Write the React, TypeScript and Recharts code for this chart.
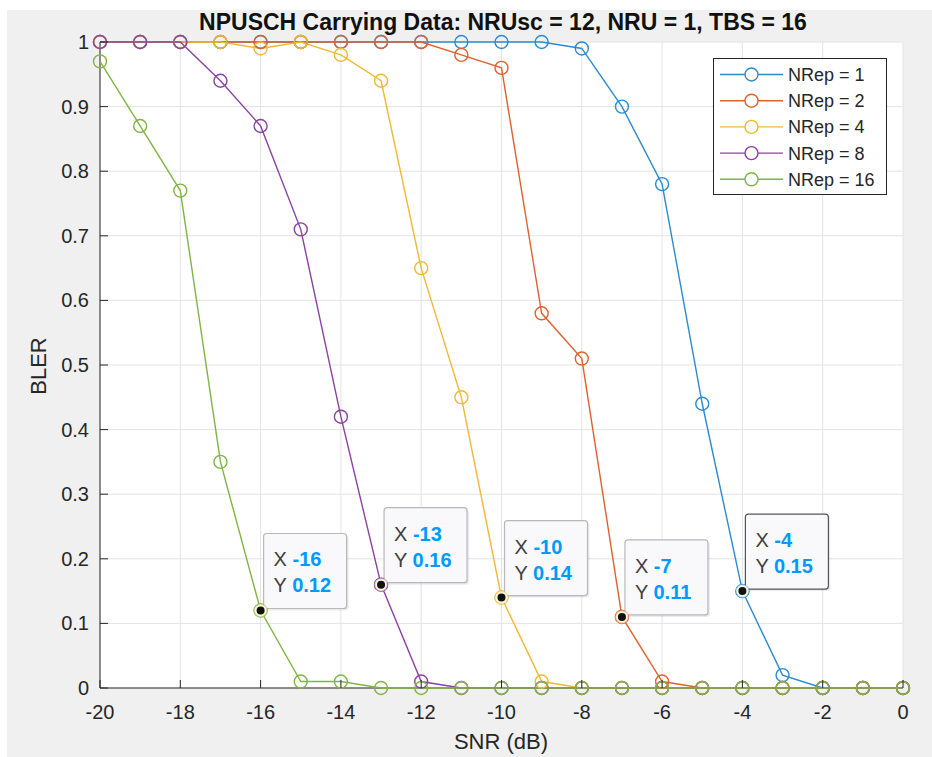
import React from 'react';
import { LineChart, Line, XAxis, YAxis, CartesianGrid, Legend, ReferenceDot } from 'recharts';

const snr = [-20, -19, -18, -17, -16, -15, -14, -13, -12, -11, -10, -9, -8, -7, -6, -5, -4, -3, -2, -1, 0];

const nrep1 = [1, 1, 1, 1, 1, 1, 1, 1, 1, 1, 1, 1, 0.99, 0.9, 0.78, 0.44, 0.15, 0.02, 0, 0, 0];
const nrep2 = [1, 1, 1, 1, 1, 1, 1, 1, 1, 0.98, 0.96, 0.58, 0.51, 0.11, 0.01, 0, 0, 0, 0, 0, 0];
const nrep4 = [1, 1, 1, 1, 0.99, 1, 0.98, 0.94, 0.65, 0.45, 0.14, 0.01, 0, 0, 0, 0, 0, 0, 0, 0, 0];
const nrep8 = [1, 1, 1, 0.94, 0.87, 0.71, 0.42, 0.16, 0.01, 0, 0, 0, 0, 0, 0, 0, 0, 0, 0, 0, 0];
const nrep16 = [0.97, 0.87, 0.77, 0.35, 0.12, 0.01, 0.01, 0, 0, 0, 0, 0, 0, 0, 0, 0, 0, 0, 0, 0, 0];

const seriesNames = ['NRep = 1', 'NRep = 2', 'NRep = 4', 'NRep = 8', 'NRep = 16'];
const seriesKeys = ['r1', 'r2', 'r4', 'r8', 'r16'];
const seriesColors = ['#2a8bd0', '#de6230', '#efb933', '#8b43a0', '#80b544'];

const xTicks = [-20, -18, -16, -14, -12, -10, -8, -6, -4, -2, 0];
const yTicks = [0, 0.1, 0.2, 0.3, 0.4, 0.5, 0.6, 0.7, 0.8, 0.9, 1];

// data tips: snr value + which series
const tipSnr = [-16, -13, -10, -7, -4];
const tipSeries = [4, 3, 2, 1, 0];

const data = snr.map((s, i) => ({
  snr: s,
  r1: nrep1[i],
  r2: nrep2[i],
  r4: nrep4[i],
  r8: nrep8[i],
  r16: nrep16[i],
}));

const FONT = '"Liberation Sans", Arial, Helvetica, sans-serif';
const INK = '#262626';

const XTick = (props: any) => {
  const { x, y, payload } = props;
  return (
    <g>
      <line x1={x} y1={y} x2={x} y2={y - 8} stroke={INK} strokeWidth={1} />
      <text x={x} y={y + 31} textAnchor="middle" fontSize={20} fontFamily={FONT} fill={INK}>
        {payload.value}
      </text>
    </g>
  );
};

const YTick = (props: any) => {
  const { x, y, payload } = props;
  return (
    <g>
      <line x1={x} y1={y} x2={x + 8} y2={y} stroke={INK} strokeWidth={1} />
      <text x={x - 11} y={y + 7} textAnchor="end" fontSize={20} fontFamily={FONT} fill={INK}>
        {String(payload.value)}
      </text>
    </g>
  );
};

const makeDot = (color: string) => (props: any) => {
  const { cx, cy, index } = props;
  if (cx == null || cy == null) return <g key={index} />;
  return <circle key={index} cx={cx} cy={cy} r={6.5} fill="none" stroke={color} strokeWidth={1.4} />;
};

const LegendBox = () => (
  <svg width={174} height={137} style={{ display: 'block' }}>
    <rect x={0.5} y={0.5} width={173} height={136} fill="#fff" stroke={INK} strokeWidth={1} />
    {seriesNames.map((name, i) => {
      const cy = 16.5 + i * 26.2;
      return (
        <g key={name}>
          <line x1={7} y1={cy} x2={70} y2={cy} stroke={seriesColors[i]} strokeWidth={1.4} />
          <circle cx={38.5} cy={cy} r={6.5} fill="#fff" stroke={seriesColors[i]} strokeWidth={1.4} />
          <text x={75} y={cy + 6.5} fontSize={18} fontFamily={FONT} fill={INK}>
            {name}
          </text>
        </g>
      );
    })}
  </svg>
);

const makeTip = (xv: number, yv: number, color: string, strong: boolean) => (props: any) => {
  const { cx, cy } = props;
  return (
    <g>
      <rect x={cx + 5} y={cy - 75} width={83} height={75} rx={3} fill="#000" opacity={0.08} />
      <rect x={cx + 3} y={cy - 77} width={83} height={75} rx={3} fill="#f9f9fc" stroke={strong ? '#555' : '#b8b8b8'} strokeWidth={1.2} />
      <text x={cx + 13} y={cy - 44} fontSize={20} fontFamily={FONT}>
        <tspan fill="#404040">X </tspan>
        <tspan fill="#0099ff" fontWeight="bold">{xv}</tspan>
      </text>
      <text x={cx + 13} y={cy - 18} fontSize={20} fontFamily={FONT}>
        <tspan fill="#404040">Y </tspan>
        <tspan fill="#0099ff" fontWeight="bold">{yv.toFixed(2)}</tspan>
      </text>
      <circle cx={cx} cy={cy} r={6.5} fill="#fff8dc" stroke={color} strokeOpacity={0.35} strokeWidth={1.5} />
      <circle cx={cx} cy={cy} r={4} fill="#111" />
    </g>
  );
};

export default function App() {
  const W = 925;
  const H = 747;
  return (
    <div style={{ position: 'absolute', left: 7, top: 10, width: W, height: H, background: '#f0f0f0', fontFamily: FONT }}>
      <LineChart width={W} height={H} data={data} margin={{ top: 32, right: 29, bottom: 29, left: 33 }}>
        <CartesianGrid stroke="#e3e3e3" strokeWidth={1} fill="#fff" horizontalValues={yTicks} verticalValues={xTicks} />
        <XAxis
          dataKey="snr"
          type="number"
          domain={[-20, 0]}
          ticks={xTicks}
          interval={0}
          height={40}
          tickSize={0}
          tickMargin={0}
          tick={<XTick />}
          stroke={INK}
          axisLine={{ stroke: INK, strokeWidth: 1 }}
          tickLine={false}
          zIndex={350}
        />
        <YAxis
          type="number"
          domain={[0, 1]}
          ticks={yTicks}
          interval={0}
          width={60}
          tickSize={0}
          tickMargin={0}
          tick={<YTick />}
          axisLine={{ stroke: INK, strokeWidth: 1 }}
          tickLine={false}
          zIndex={350}
        />
        {seriesKeys.map((k, i) => (
          <Line
            key={k}
            type="linear"
            dataKey={k}
            name={seriesNames[i]}
            stroke={seriesColors[i]}
            strokeWidth={1.4}
            dot={makeDot(seriesColors[i])}
            activeDot={false}
            isAnimationActive={false}
          />
        ))}
        {tipSnr.map((s, j) => {
          const si = tipSeries[j];
          const arr = [nrep1, nrep2, nrep4, nrep8, nrep16][si];
          const yv = arr[snr.indexOf(s)];
          return (
            <ReferenceDot
              key={s}
              x={s}
              y={yv}
              r={4}
              zIndex={2500}
              isFront
              shape={makeTip(s, yv, seriesColors[si], j === tipSnr.length - 1)}
            />
          );
        })}
        <Legend
          layout="vertical"
          align="center"
          verticalAlign="middle"
          wrapperStyle={{ left: 706, top: 48, width: 174, height: 137 }}
          content={() => <LegendBox />}
        />
      </LineChart>
      <svg width={W} height={H} style={{ position: 'absolute', left: 0, top: 0, pointerEvents: 'none' }}>
        <text x={496} y={20} textAnchor="middle" fontSize={23} fontWeight="bold" fontFamily={FONT} fill="#111">
          NPUSCH Carrying Data: NRUsc = 12, NRU = 1, TBS = 16
        </text>
        <text x={494} y={739} textAnchor="middle" fontSize={22} fontFamily={FONT} fill={INK}>
          SNR (dB)
        </text>
        <text
          x={0}
          y={0}
          transform="translate(39 356) rotate(-90)"
          textAnchor="middle"
          fontSize={22}
          fontFamily={FONT}
          fill={INK}
        >
          BLER
        </text>
      </svg>
    </div>
  );
}
